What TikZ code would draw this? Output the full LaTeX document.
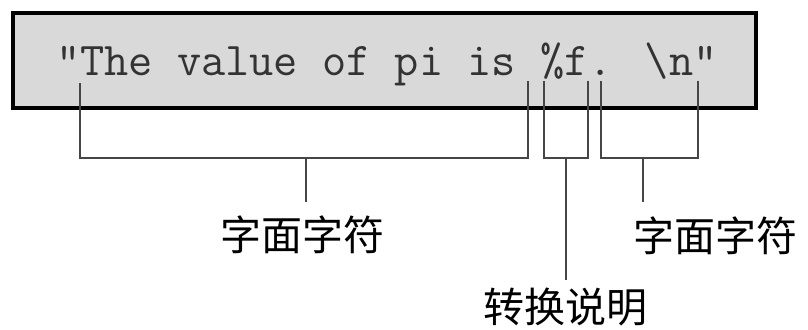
\documentclass[tikz,border=0pt]{standalone}
\usepackage{fontspec}
\newfontfamily\cjk{Noto Sans CJK SC}
\definecolor{boxgray}{RGB}{217,217,217}
\definecolor{linegray}{RGB}{70,70,70}
\tikzset{bracket/.style={draw=linegray,line width=1pt},
  cjklbl/.style={inner sep=0pt,font=\cjk\fontsize{20.5}{24}\selectfont}}

\begin{document}
\begin{tikzpicture}[x=0.5pt,y=-0.5pt]
				\useasboundingbox (0,0) rectangle (808,329);
				\draw[fill=boxgray,line width=2pt] (12.5,12.5) rectangle (755.5,107.5);
				\node[anchor=base west,inner sep=0pt,text=black!80,font=\ttfamily\fontsize{23.5}{26}\selectfont] (code) at (55.6,75) {"The value of pi is \%f. \textbackslash n"};
				% tick ends under the string
				\coordinate (l1) at (80,83); \coordinate (r1) at (528,81);
				\coordinate (l2) at (544,81); \coordinate (r2) at (588,81);
				\coordinate (l3) at (601,81); \coordinate (r3) at (698,81);
				\coordinate (m1) at (306,158); \coordinate (m2) at (566,158); \coordinate (m3) at (643,158);
				\coordinate (e1) at (306,202); \coordinate (e2) at (566,280); \coordinate (e3) at (643,202);
				\draw[bracket] (l1) -- (l1 |- m1) -- (r1 |- m1) -- (r1);
				\draw[bracket] (l2) -- (l2 |- m2) -- (r2 |- m2) -- (r2);
				\draw[bracket] (l3) -- (l3 |- m3) -- (r3 |- m3) -- (r3);
				\draw[bracket] (m1) -- (e1);
				\draw[bracket] (m2) -- (e2);
				\draw[bracket] (m3) -- (e3);
				\node[cjklbl] (lit1) at (302,235) {字面字符};
				\node[cjklbl] (conv) at (565,307) {转换说明};
				\node[cjklbl] (lit2) at (715,236) {字面字符};
			\end{tikzpicture}
\end{document}
